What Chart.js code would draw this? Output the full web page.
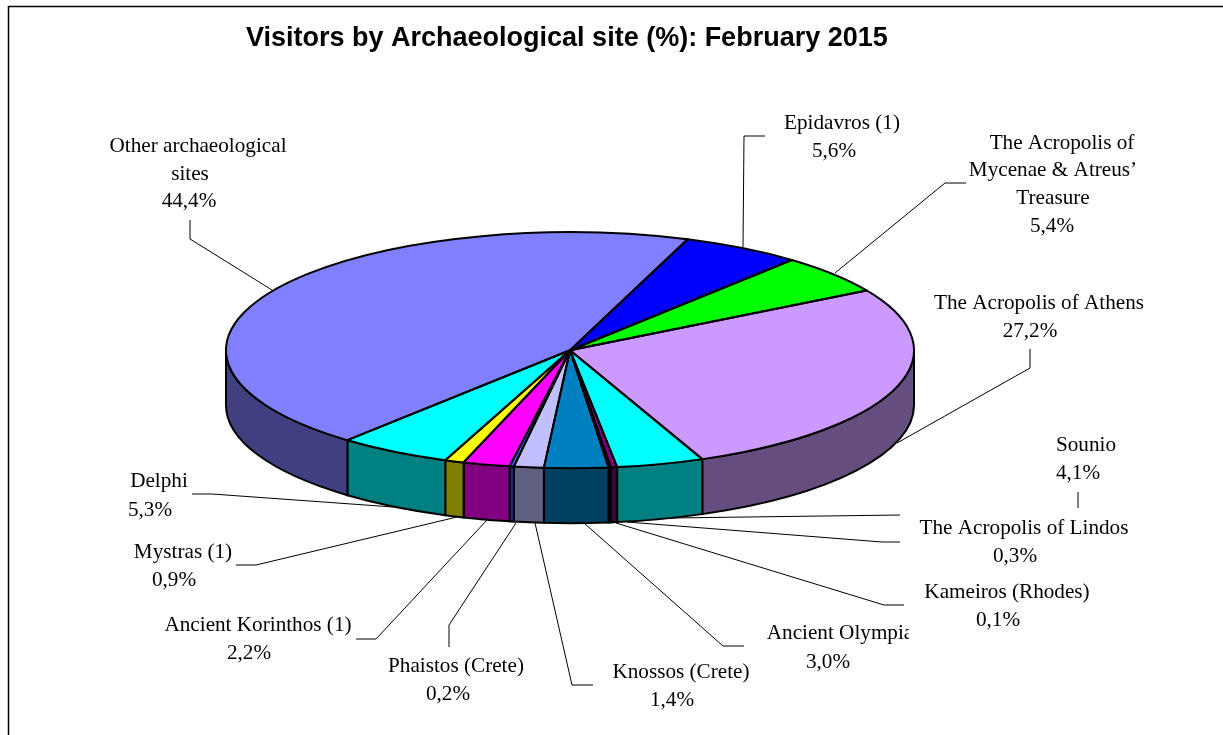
<!DOCTYPE html>
<html>
<head>
<meta charset="utf-8">
<title>Visitors by Archaeological site</title>
<script src="https://cdn.jsdelivr.net/npm/chart.js@4"></script>
<style>
  html, body { margin: 0; padding: 0; background: #fff; }
  canvas { display: block; }
</style>
</head>
<body>
<canvas id="myChart" width="1223" height="735"></canvas>
<script>
const titleText = 'Visitors by Archaeological site (%): February 2015';
const categories = ['Epidavros (1)', "The Acropolis of Mycenae & Atreus' Treasure", 'The Acropolis of Athens', 'Sounio',
  'The Acropolis of Lindos', 'Kameiros (Rhodes)', 'Ancient Olympia', 'Knossos (Crete)', 'Phaistos (Crete)',
  'Ancient Korinthos (1)', 'Mystras (1)', 'Delphi', 'Other archaeological sites'];
const shares = [5.6, 5.4, 27.2, 4.1, 0.3, 0.1, 3.0, 1.4, 0.2, 2.2, 0.9, 5.3, 44.4];
const sliceColors = ['#0000ff', '#00ff00', '#cc99ff', '#00ffff', '#800080', '#000080', '#0080c0', '#c0c0ff',
  '#3366ff', '#ff00ff', '#ffff00', '#00ffff', '#8080ff'];

// label text is wrapped by hand like the original, one entry per line: text, centre x, centre y
const labelLines = [
  ['Epidavros (1)', 842, 122], ['5,6%', 834, 150],
  ['The Acropolis of', 1062, 142], ['Mycenae & Atreus\u2019', 1053, 169], ['Treasure', 1053, 197], ['5,4%', 1052, 225],
  ['The Acropolis of Athens', 1039, 302], ['27,2%', 1030, 330],
  ['Sounio', 1086, 444], ['4,1%', 1078, 472],
  ['The Acropolis of Lindos', 1024, 527], ['0,3%', 1015, 555],
  ['Kameiros (Rhodes)', 1007, 591], ['0,1%', 998, 619],
  ['Ancient Olympia', 840, 632, 909], ['3,0%', 828, 661],
  ['Knossos (Crete)', 681, 671], ['1,4%', 672, 699],
  ['Phaistos (Crete)', 456, 665], ['0,2%', 448, 693],
  ['Ancient Korinthos (1)', 258, 624], ['2,2%', 249, 652],
  ['Mystras (1)', 183, 551], ['0,9%', 174, 579],
  ['Delphi', 159, 480], ['5,3%', 150, 509],
  ['Other archaeological', 198, 145], ['sites', 190, 173], ['44,4%', 189, 200]
];
const leaderLines = [
  [[765, 136], [744, 136], [743, 247]],
  [[966, 183], [945, 183], [835, 273]],
  [[1030, 349], [1030, 368], [897, 443]],
  [[1078, 492], [1078, 508]],
  [[900, 515], [670, 518]],
  [[900, 542], [882, 542], [627, 522]],
  [[904, 605], [884, 605], [616, 523]],
  [[744, 646], [723, 646], [584, 523]],
  [[593, 685], [572, 685], [535, 523]],
  [[449, 647], [449, 625], [516, 523]],
  [[356, 639], [376, 639], [487, 520]],
  [[236, 565], [256, 565], [457, 517]],
  [[192, 494], [212, 494], [393, 507]],
  [[190, 220], [190, 239], [272, 290]]
];

const pieRadius = 344;
const tilt = 118 / 344;
const wallDepth = 55;

// wall colour is the slice colour at half brightness
function halfColor(hex) {
  const n = parseInt(hex.slice(1), 16);
  return 'rgb(' + (n >> 16 & 255) / 2 + ',' + (n >> 8 & 255) / 2 + ',' + (n & 255) / 2 + ')';
}

// chart.js has no 3d pie, so the arcs get squashed and the walls go in behind them
const pie3d = {
  id: 'pie3d',
  beforeDatasetsDraw(chart) {
    const ctx = chart.ctx;
    const arcs = chart.getDatasetMeta(0).data;
    const cx = arcs[0].x, cy = arcs[0].y;
    const ry = pieRadius * tilt;
    ctx.save();
    ctx.lineWidth = 2;
    ctx.strokeStyle = '#000';
    arcs.forEach((arc, i) => {
      // only the part of each slice on the front half of the rim has a visible wall
      const range = [[arc.startAngle, arc.endAngle], [arc.startAngle - Math.PI * 2, arc.endAngle - Math.PI * 2]];
      range.forEach(([s, e]) => {
        const a0 = Math.max(s, 0), a1 = Math.min(e, Math.PI);
        if (a1 <= a0) return;
        ctx.beginPath();
        ctx.ellipse(cx, cy, pieRadius, ry, 0, a0, a1);
        ctx.ellipse(cx, cy + wallDepth, pieRadius, ry, 0, a1, a0, true);
        ctx.closePath();
        ctx.fillStyle = halfColor(sliceColors[i]);
        ctx.fill();
        ctx.stroke();
      });
    });
    ctx.restore();
    ctx.save();
    ctx.translate(cx, cy);
    ctx.scale(1, tilt);
    ctx.translate(-cx, -cy);
  },
  afterDatasetsDraw(chart) {
    const ctx = chart.ctx;
    ctx.restore();
    const arcs = chart.getDatasetMeta(0).data;
    const cx = arcs[0].x, cy = arcs[0].y;
    const ry = pieRadius * tilt;
    ctx.save();
    ctx.lineWidth = 2;
    ctx.strokeStyle = '#000';
    ctx.lineJoin = 'round';
    arcs.forEach(arc => {
      ctx.beginPath();
      ctx.moveTo(cx, cy);
      ctx.ellipse(cx, cy, pieRadius, ry, 0, arc.startAngle, arc.endAngle);
      ctx.closePath();
      ctx.stroke();
    });
    ctx.restore();

    // frame: only the top and left edges show in the original
    ctx.save();
    ctx.strokeStyle = '#000';
    ctx.lineWidth = 1.5;
    ctx.beginPath();
    ctx.moveTo(8.5, chart.height);
    ctx.lineTo(8.5, 6.5);
    ctx.lineTo(chart.width, 6.5);
    ctx.stroke();

    ctx.lineWidth = 1;
    leaderLines.forEach(pts => {
      ctx.beginPath();
      pts.forEach((p, i) => i ? ctx.lineTo(p[0], p[1]) : ctx.moveTo(p[0], p[1]));
      ctx.stroke();
    });

    ctx.fillStyle = '#000';
    ctx.font = '21.2px "Liberation Serif"';
    ctx.textAlign = 'center';
    ctx.textBaseline = 'middle';
    labelLines.forEach(([text, x, y, clipRight]) => {
      ctx.save();
      if (clipRight) {
        ctx.beginPath();
        ctx.rect(0, 0, clipRight, chart.height);
        ctx.clip();
      }
      ctx.fillText(text, x, y + 1);
      ctx.restore();
    });
    ctx.restore();
  }
};

new Chart(document.getElementById('myChart'), {
  type: 'pie',
  data: {
    labels: categories,
    datasets: [{
      data: shares,
      backgroundColor: sliceColors,
      borderWidth: 0,
      clip: false
    }]
  },
  options: {
    responsive: false,
    animation: false,
    rotation: 20,
    radius: pieRadius,
    layout: { padding: { left: 246, right: 329, top: 0, bottom: 89 } },
    events: [],
    plugins: {
      legend: { display: false },
      tooltip: { enabled: false },
      title: {
        display: true,
        text: titleText,
        align: 'start',
        color: '#000',
        font: { family: '"Liberation Sans"', size: 27, weight: 'bold' },
        padding: { top: 22, bottom: 0 }
      }
    }
  },
  plugins: [pie3d]
});
</script>
</body>
</html>
